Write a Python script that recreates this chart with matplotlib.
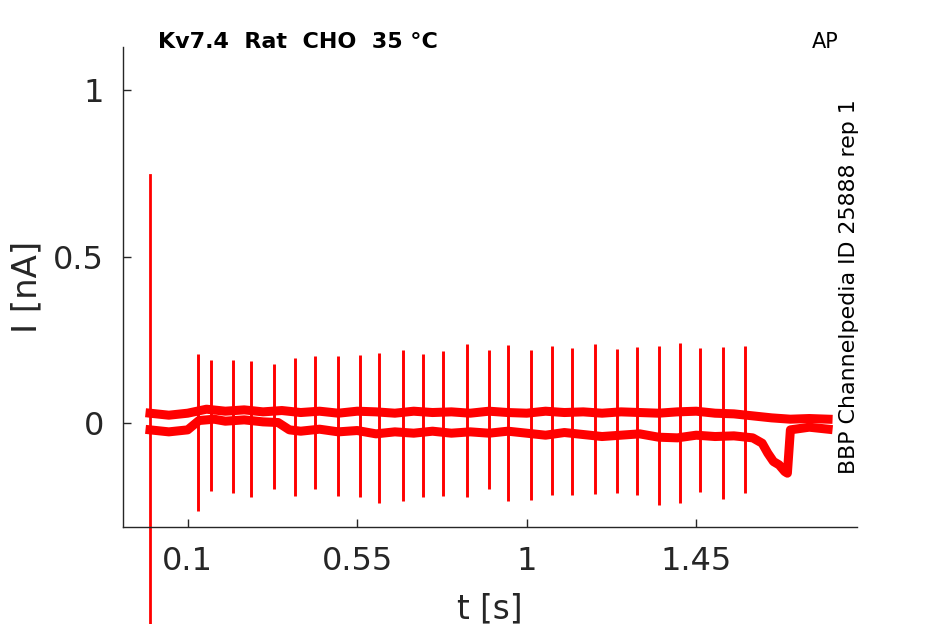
import matplotlib
matplotlib.use("Agg")
import matplotlib.pyplot as plt
import numpy as np

# ---------------- data ----------------
# upper (baseline) trace
t_upper = [0.00, 0.05, 0.10, 0.15, 0.20, 0.25, 0.30, 0.35, 0.40, 0.45, 0.50,
           0.55, 0.60, 0.65, 0.70, 0.75, 0.80, 0.85, 0.90, 0.95, 1.00, 1.05,
           1.10, 1.15, 1.20, 1.25, 1.30, 1.35, 1.40, 1.45, 1.50, 1.55, 1.60,
           1.65, 1.70, 1.75, 1.80]
i_upper = [0.030, 0.024, 0.030, 0.042, 0.036, 0.040, 0.034, 0.038, 0.032, 0.036, 0.030,
           0.036, 0.034, 0.030, 0.036, 0.032, 0.034, 0.030, 0.036, 0.032, 0.030, 0.036,
           0.032, 0.034, 0.030, 0.034, 0.032, 0.030, 0.034, 0.036, 0.030, 0.028, 0.022,
           0.016, 0.012, 0.014, 0.012]

# lower trace
t_lower = [0.00, 0.05, 0.10, 0.13, 0.17, 0.20, 0.25, 0.30, 0.34, 0.37, 0.40, 0.45,
           0.50, 0.55, 0.60, 0.65, 0.70, 0.75, 0.80, 0.85, 0.90, 0.95, 1.00, 1.05,
           1.10, 1.15, 1.20, 1.25, 1.30, 1.35, 1.40, 1.45, 1.50, 1.55, 1.60, 1.625,
           1.64, 1.655, 1.67, 1.685, 1.692, 1.70, 1.75, 1.80]
i_lower = [-0.020, -0.026, -0.020, 0.008, 0.012, 0.006, 0.010, 0.004, 0.002, -0.020, -0.024, -0.018,
           -0.026, -0.022, -0.032, -0.026, -0.030, -0.024, -0.030, -0.026, -0.030, -0.024, -0.030, -0.036,
           -0.028, -0.034, -0.040, -0.036, -0.032, -0.042, -0.044, -0.036, -0.040, -0.038, -0.044, -0.060,
           -0.090, -0.115, -0.125, -0.145, -0.150, -0.020, -0.012, -0.018]

# action-potential-clamp spikes
spike_t = [0.127, 0.162, 0.219, 0.269, 0.330, 0.386, 0.438, 0.500, 0.558, 0.609,
           0.671, 0.726, 0.779, 0.841, 0.900, 0.951, 1.011, 1.068, 1.120, 1.181,
           1.241, 1.292, 1.352, 1.407, 1.460, 1.522, 1.580]
spike_peak = [0.209, 0.191, 0.191, 0.188, 0.179, 0.195, 0.201, 0.203, 0.204, 0.212,
              0.221, 0.209, 0.216, 0.237, 0.219, 0.234, 0.219, 0.231, 0.227, 0.237,
              0.222, 0.228, 0.231, 0.242, 0.227, 0.228, 0.231]
spike_trough = [-0.262, -0.202, -0.209, -0.222, -0.197, -0.219, -0.197, -0.217, -0.221, -0.240,
                -0.232, -0.222, -0.217, -0.220, -0.198, -0.232, -0.229, -0.215, -0.215, -0.212,
                -0.210, -0.214, -0.244, -0.238, -0.207, -0.227, -0.210]

# capacitive transient at t = 0
transient_t = [0.0, 0.0]
transient_i = [0.745, -0.95]

x_ticks = [0.1, 0.55, 1.0, 1.45]
x_ticklabels = ["0.1", "0.55", "1", "1.45"]
y_ticks = [0.0, 0.5, 1.0]
y_ticklabels = ["0", "0.5", "1"]

title_text = "Kv7.4  Rat  CHO  35 °C"
corner_text = "AP"
side_text = "BBP Channelpedia ID 25888 rep 1"

# ---------------- plot ----------------
W, H = 945, 624
fig = plt.figure(figsize=(W / 100, H / 100), dpi=100)
ax = fig.add_axes([122.7 / W, 1 - 526.5 / H, (856.7 - 122.7) / W, (526.5 - 47.3) / H])

red = "#ff0000"
grey = "#262626"

ax.plot(t_upper, i_upper, color=red, lw=6.5, solid_joinstyle="round")
ax.plot(t_lower, i_lower, color=red, lw=6.5, solid_joinstyle="round")
ax.vlines(spike_t, spike_trough, spike_peak, color=red, lw=2.1)
ax.plot(transient_t, transient_i, color=red, lw=2.0, clip_on=False)

ax.set_xlim(-0.0725, 1.876)
ax.set_ylim(-0.31, 1.128)

ax.set_xticks(x_ticks)
ax.set_xticklabels(x_ticklabels)
ax.set_yticks(y_ticks)
ax.set_yticklabels(y_ticklabels)

for s in ["top", "right"]:
    ax.spines[s].set_visible(False)
for s in ["left", "bottom"]:
    ax.spines[s].set_color(grey)
    ax.spines[s].set_linewidth(1.0)

ax.tick_params(axis="both", direction="in", length=5.5, width=1.0, color=grey,
               labelcolor=grey, labelsize=23)
ax.tick_params(axis="x", pad=14)
ax.tick_params(axis="y", pad=13.5)

ax.set_xlabel("t [s]", fontsize=23.5, color=grey, labelpad=11)
ax.set_ylabel("I [nA]", fontsize=24.5, color=grey, labelpad=7)

fig.text(158 / W, 1 - 47.5 / H, title_text, fontsize=16, fontweight="bold",
         color="black", ha="left", va="baseline")
fig.text(812 / W, 1 - 47.5 / H, corner_text, fontsize=15, color="black",
         ha="left", va="baseline")
fig.text(859 / W, 1 - 287 / H, side_text, rotation=90, fontsize=15.9,
         color="black", ha="right", va="center")

fig.savefig("out.png", dpi=100)
